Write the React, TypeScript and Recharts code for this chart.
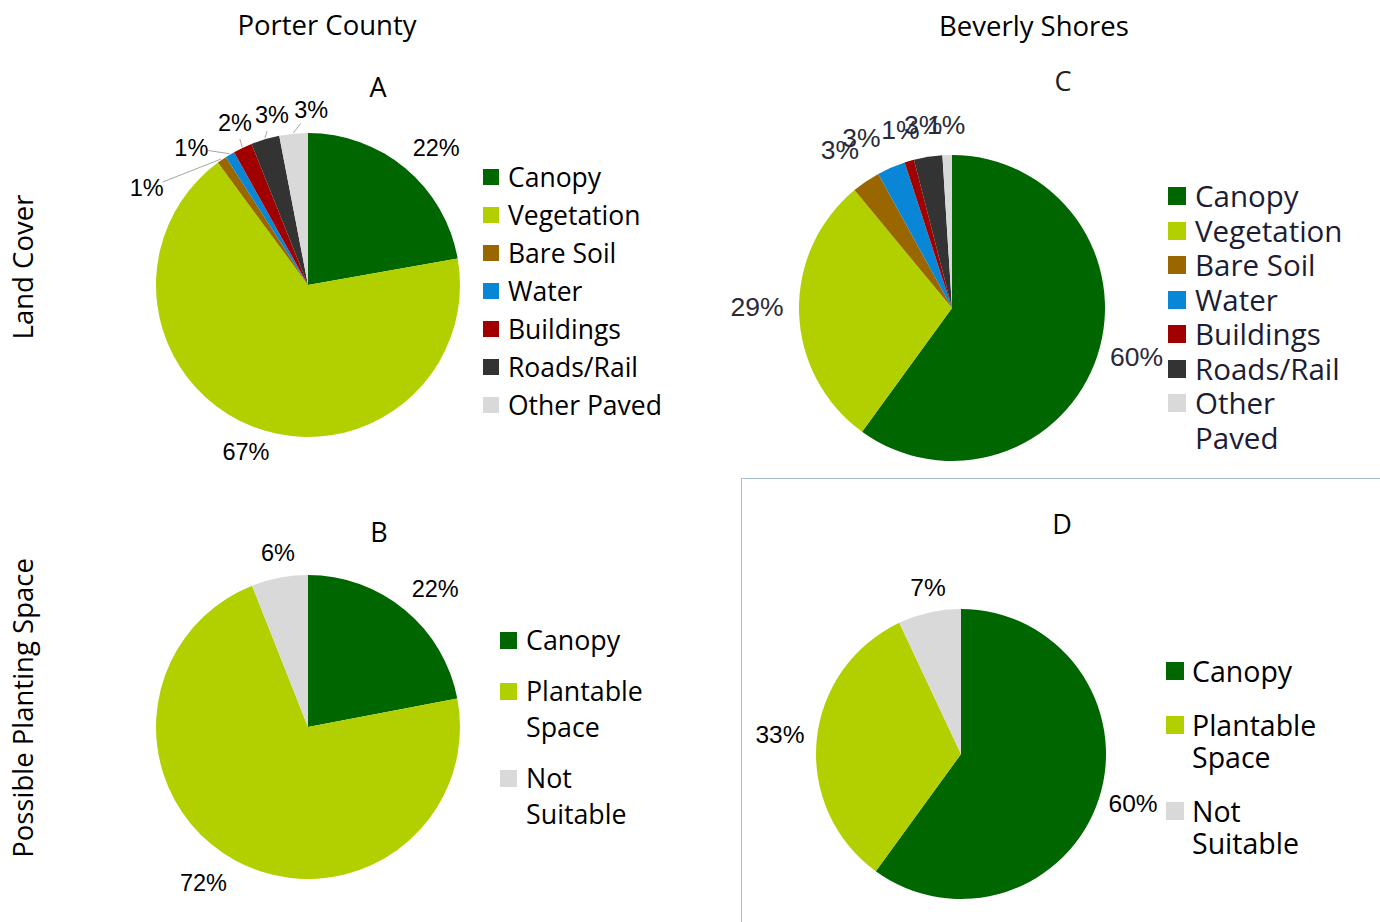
import React from 'react'
import { Cell, Legend, Pie, PieChart } from 'recharts'

// ---- data ----
const landCoverNames = ['Canopy', 'Vegetation', 'Bare Soil', 'Water', 'Buildings', 'Roads/Rail', 'Other Paved']
const landCoverColors = ['#006600', '#b2d000', '#996600', '#0a86d6', '#a00000', '#333333', '#d9d9d9']
const porterLandCover = [22, 67, 1, 1, 2, 3, 3]
const beverlyLandCover = [60, 29, 3, 3, 1, 3, 1]

const plantingNames = ['Canopy', 'Plantable Space', 'Not Suitable']
const plantingColors = ['#006600', '#b2d000', '#d9d9d9']
const porterPlanting = [22, 72, 6]
const beverlyPlanting = [60, 33, 7]

const RAD = Math.PI / 180
const CAL = '"Open Sans", sans-serif'
const ARIAL = '"Liberation Sans", Arial, sans-serif'

type LabelCfg = {
  radius: number
  fontSize: number
  color: string
  nudge?: { da: number; dr: number }[] // clockwise degrees, radial px
  leader?: boolean[]
}

const makeLabel = (cfg: LabelCfg) => (props: any) => {
  const { cx, cy, midAngle, outerRadius, index, value } = props
  const n = cfg.nudge?.[index] ?? { da: 0, dr: 0 }
  const a = midAngle - n.da
  const r = cfg.radius + n.dr
  const lx = cx + r * Math.cos(-a * RAD)
  const ly = cy + r * Math.sin(-a * RAD)
  let line = null
  if (cfg.leader?.[index]) {
    const ex = cx + (outerRadius + 1) * Math.cos(-midAngle * RAD)
    const ey = cy + (outerRadius + 1) * Math.sin(-midAngle * RAD)
    const d = Math.hypot(ex - lx, ey - ly)
    const k = 17 / d
    line = <line x1={ex} y1={ey} x2={lx + (ex - lx) * k} y2={ly + (ey - ly) * k} stroke="#a6a6a6" strokeWidth={1} />
  }
  return (
    <g>
      {line}
      <text x={lx} y={ly} textAnchor="middle" dominantBaseline="central" fontFamily={ARIAL} fontSize={cfg.fontSize} fill={cfg.color}>
        {value}%
      </text>
    </g>
  )
}

type LegendCfg = {
  left: number
  top: number
  fontSize: number
  lineHeight: number
  gap: number
  square: number
  squareGap: number
  maxWidth: number
  color: string
}

const LegendList = ({ names, colors, cfg }: { names: string[]; colors: string[]; cfg: LegendCfg }) => (
  <div style={{ fontFamily: CAL, fontSize: cfg.fontSize, lineHeight: cfg.lineHeight + 'px', color: cfg.color }}>
    {names.map((name, i) => (
      <div key={name} style={{ display: 'flex', alignItems: 'flex-start', marginBottom: cfg.gap }}>
        <span
          style={{
            width: cfg.square,
            height: cfg.square,
            background: colors[i],
            flex: 'none',
            marginTop: (cfg.lineHeight - cfg.square) / 2,
            marginRight: cfg.squareGap,
          }}
        />
        <span style={{ maxWidth: cfg.maxWidth }}>{name}</span>
      </div>
    ))}
  </div>
)

type PanelProps = {
  left: number
  top: number
  width: number
  height: number
  cx: number
  cy: number
  r: number
  names: string[]
  values: number[]
  colors: string[]
  label: LabelCfg
  legend: LegendCfg
}

function PiePanel(p: PanelProps) {
  const data = p.names.map((name, i) => ({ name, value: p.values[i] }))
  return (
    <div style={{ position: 'absolute', left: p.left, top: p.top }}>
      <PieChart width={p.width} height={p.height} margin={{ top: 0, right: 0, bottom: 0, left: 0 }}>
        <Pie
          data={data}
          dataKey="value"
          nameKey="name"
          cx={p.cx}
          cy={p.cy}
          outerRadius={p.r}
          startAngle={90}
          endAngle={-270}
          stroke="none"
          label={makeLabel(p.label)}
          labelLine={false}
          isAnimationActive={false}
        >
          {data.map((d, i) => (
            <Cell key={d.name} fill={p.colors[i]} />
          ))}
        </Pie>
        <Legend
          layout="vertical"
          wrapperStyle={{ position: 'absolute', left: p.legend.left, top: p.legend.top, width: 'auto' }}
          content={() => <LegendList names={p.names} colors={p.colors} cfg={p.legend} />}
        />
      </PieChart>
    </div>
  )
}

const txt = (s: React.CSSProperties): React.CSSProperties => ({
  position: 'absolute',
  fontFamily: CAL,
  color: '#000',
  whiteSpace: 'nowrap',
  ...s,
})

const sideLabel: React.CSSProperties = {
  position: 'absolute',
  left: 0,
  top: 0,
  transform: 'translate(-50%, -50%) rotate(-90deg)',
  transformOrigin: 'center',
  fontSize: 27.5,
  marginLeft: 12,
}

export default function App() {
  return (
    <div style={{ position: 'absolute', left: 0, top: 0, width: 1380, height: 922, background: '#fff', overflow: 'hidden' }}>
      {/* panel D frame */}
      <div style={{ position: 'absolute', left: 741, top: 478, width: 639, height: 444, borderTop: '1px solid #a9bccd', borderLeft: '1px solid #a9bccd' }} />

      <div style={txt({ left: 177, top: 6, width: 300, textAlign: 'center', fontSize: 27.5 })}>Porter County</div>
      <div style={txt({ left: 884, top: 7, width: 300, textAlign: 'center', fontSize: 27.5 })}>Beverly Shores</div>

      <div style={txt({ left: 10, top: 267, width: 24, height: 0 })}>
        <div style={sideLabel}>Land Cover</div>
      </div>
      <div style={txt({ left: 10, top: 708, width: 24, height: 0 })}>
        <div style={sideLabel}>Possible Planting Space</div>
      </div>

      <div style={txt({ left: 358, top: 68, width: 40, textAlign: 'center', fontSize: 27 })}>A</div>
      <div style={txt({ left: 359, top: 513, width: 40, textAlign: 'center', fontSize: 27 })}>B</div>
      <div style={txt({ left: 1043, top: 62, width: 40, textAlign: 'center', fontSize: 27, color: '#222' })}>C</div>
      <div style={txt({ left: 1042, top: 505, width: 40, textAlign: 'center', fontSize: 27 })}>D</div>

      <PiePanel
        left={120}
        top={60}
        width={580}
        height={420}
        cx={188}
        cy={225}
        r={152}
        names={landCoverNames}
        values={porterLandCover}
        colors={landCoverColors}
        label={{
          radius: 180,
          fontSize: 23.5,
          color: '#000',
          nudge: [
            { da: 3, dr: 8 },
            { da: -1.4, dr: -2 },
            { da: -24.5, dr: 8 },
            { da: -9.5, dr: 0 },
            { da: 1.2, dr: -2 },
            { da: 4.4, dr: -6 },
            { da: 6.5, dr: -5 },
          ],
          leader: [false, false, true, true, true, true, true],
        }}
        legend={{ left: 363, top: 98, fontSize: 26.5, lineHeight: 38, gap: 0, square: 16, squareGap: 9, maxWidth: 240, color: '#000' }}
      />

      <PiePanel
        left={120}
        top={500}
        width={580}
        height={420}
        cx={188}
        cy={227}
        r={152}
        names={plantingNames}
        values={porterPlanting}
        colors={plantingColors}
        label={{
          radius: 185,
          fontSize: 23.5,
          color: '#000',
          nudge: [
            { da: 3, dr: 3 },
            { da: 5, dr: 3 },
            { da: 1, dr: -8 },
          ],
        }}
        legend={{ left: 380, top: 122, fontSize: 26.8, lineHeight: 36, gap: 15, square: 17, squareGap: 9, maxWidth: 140, color: '#000' }}
      />

      <PiePanel
        left={720}
        top={60}
        width={660}
        height={418}
        cx={232}
        cy={248}
        r={153}
        names={landCoverNames}
        values={beverlyLandCover}
        colors={landCoverColors}
        label={{
          radius: 190,
          fontSize: 26.5,
          color: '#2a2a3a',
          nudge: [
            { da: -3, dr: 1 },
            { da: 2, dr: 5 },
            { da: -1.1, dr: 4 },
            { da: -4.6, dr: 3 },
            { da: 0, dr: -5 },
            { da: 0, dr: -5 },
            { da: 0, dr: -7 },
          ],
        }}
        legend={{ left: 448, top: 119, fontSize: 29.5, lineHeight: 34.5, gap: 0, square: 18, squareGap: 9, maxWidth: 160, color: '#1c1c34' }}
      />

      <PiePanel
        left={741}
        top={478}
        width={639}
        height={444}
        cx={220}
        cy={276}
        r={145}
        names={plantingNames}
        values={beverlyPlanting}
        colors={plantingColors}
        label={{
          radius: 178,
          fontSize: 24.5,
          color: '#000',
          nudge: [
            { da: -2, dr: 1 },
            { da: 0.6, dr: 4 },
            { da: 1.4, dr: -8 },
          ],
        }}
        legend={{ left: 425, top: 177, fontSize: 28.5, lineHeight: 32, gap: 22, square: 18, squareGap: 8, maxWidth: 150, color: '#000' }}
      />
    </div>
  )
}
